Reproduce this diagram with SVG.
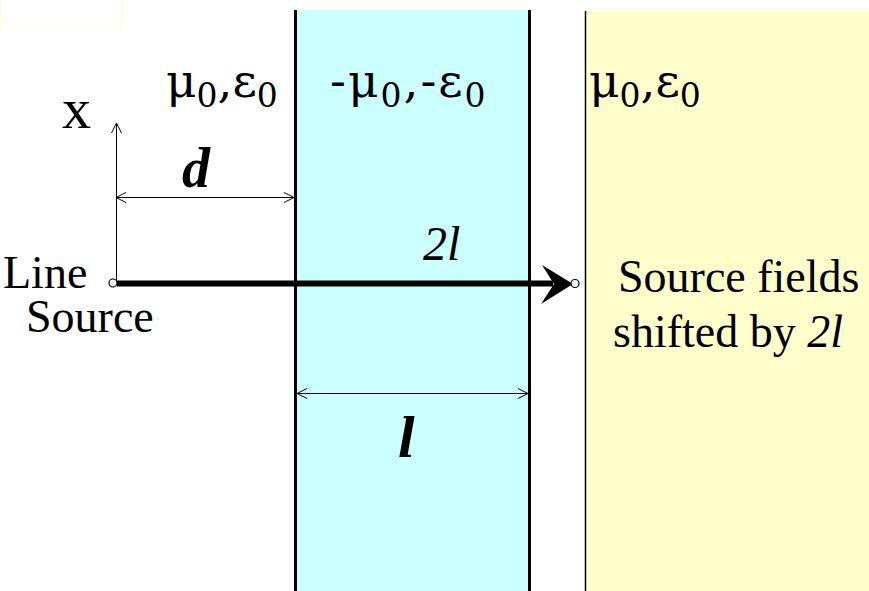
<svg xmlns="http://www.w3.org/2000/svg" width="869" height="591" viewBox="0 0 869 591">
  <style>
    .t { font-family: "Liberation Serif", "DejaVu Serif", "Times New Roman", serif; fill: #000; }
    .big { font-size: 46px; }
    .gr { font-family: "DejaVu Serif", "Liberation Serif", serif; font-size: 47px; fill: #000; }
    .sub { font-size: 33px; }
    .thin { stroke: #000; stroke-width: 1; fill: none; }
    .wall { stroke: #000; stroke-width: 3; }
  </style>
  <defs>
    <marker id="chev" viewBox="0 0 12 12" refX="11" refY="6" markerWidth="12" markerHeight="12" markerUnits="userSpaceOnUse" orient="auto-start-reverse">
      <path d="M1 1 L11 6 L1 11" fill="none" stroke="#000" stroke-width="1"/>
    </marker>
  </defs>
  <rect x="0" y="0" width="869" height="591" fill="#fff"/>
  <rect x="0.5" y="-1" width="121.5" height="29" fill="none" stroke="#ffff99" stroke-width="1" stroke-dasharray="1 1"/>

  <g id="slab">
    <rect x="295" y="10" width="235" height="581" fill="#ccffff"/>
    <line class="wall" x1="295.5" y1="10" x2="295.5" y2="591"/>
    <line class="wall" x1="529.5" y1="10" x2="529.5" y2="591"/>
  </g>
  <g id="image-region">
    <rect x="585" y="11" width="284" height="580" fill="#ffffcc"/>
    <line x1="585.5" y1="11" x2="585.5" y2="591" stroke="#000" stroke-width="1.5"/>
  </g>

  <g id="labels">
    <text class="gr" x="166" y="97">μ<tspan class="sub" dy="10">0</tspan><tspan dy="-10">,ε</tspan><tspan class="sub" dy="10">0</tspan></text>
    <text class="gr" x="330" y="97" letter-spacing="2">-μ<tspan class="sub" dy="10">0</tspan><tspan dy="-10">,-ε</tspan><tspan class="sub" dy="10">0</tspan></text>
    <text class="gr" x="589" y="97">μ<tspan class="sub" dy="10">0</tspan><tspan dy="-10">,ε</tspan><tspan class="sub" dy="10">0</tspan></text>
    <text class="t" x="62" y="128" font-size="58">x</text>
    <text class="t" x="182" y="187" font-size="56" font-weight="bold" font-style="italic">d</text>
    <text class="t" x="423" y="260" font-size="48" font-style="italic">2l</text>
    <text class="t" x="398" y="457" font-size="60" font-weight="bold" font-style="italic">l</text>
    <text class="t big" x="3" y="288">Line</text>
    <text class="t big" x="26" y="332">Source</text>
    <text class="t big" x="618" y="292">Source fields</text>
    <text class="t big" x="613" y="347">shifted by <tspan font-style="italic">2l</tspan></text>
  </g>

  <g id="connectors">
    <line class="thin" x1="116.5" y1="283" x2="116.5" y2="123" marker-end="url(#chev)"/>
    <line class="thin" x1="116" y1="197.5" x2="294" y2="197.5" marker-start="url(#chev)" marker-end="url(#chev)"/>
    <line class="thin" x1="297" y1="393.5" x2="528" y2="393.5" marker-start="url(#chev)" marker-end="url(#chev)"/>
    <line x1="117" y1="283.5" x2="553" y2="283.5" stroke="#000" stroke-width="6"/>
    <path d="M573 284 L542 265 L554 284 L541 304 Z" fill="#000"/>
    <circle cx="113" cy="283" r="4" fill="#fff" stroke="#000" stroke-width="1.2"/>
    <circle cx="575" cy="283.5" r="4" fill="#fff" stroke="#000" stroke-width="1.2"/>
  </g>
</svg>
